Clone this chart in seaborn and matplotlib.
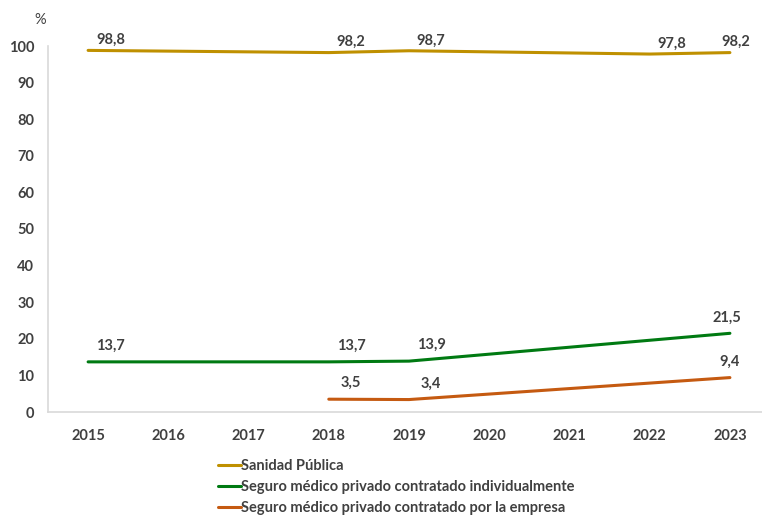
import matplotlib
matplotlib.use("Agg")
import matplotlib.pyplot as plt
import seaborn as sns
import pandas as pd
from matplotlib.lines import Line2D

# Data
years_publica = [2015, 2018, 2019, 2022, 2023]
vals_publica = [98.8, 98.2, 98.7, 97.8, 98.2]
years_individual = [2015, 2018, 2019, 2023]
vals_individual = [13.7, 13.7, 13.9, 21.5]
years_empresa = [2018, 2019, 2023]
vals_empresa = [3.5, 3.4, 9.4]
series_names = ["Sanidad Pública",
                "Seguro médico privado contratado individualmente",
                "Seguro médico privado contratado por la empresa"]
x_ticks = list(range(2015, 2024))
y_ticks = list(range(0, 101, 10))

colors = ["#BF9000", "#007A12", "#C55A11"]

sns.set_theme(style="white")
plt.rcParams['font.family'] = ['Lato', 'DejaVu Sans']

df = pd.concat([
    pd.DataFrame({"year": years_publica, "value": vals_publica, "serie": series_names[0]}),
    pd.DataFrame({"year": years_individual, "value": vals_individual, "serie": series_names[1]}),
    pd.DataFrame({"year": years_empresa, "value": vals_empresa, "serie": series_names[2]}),
])

fig = plt.figure(figsize=(7.62, 5.17), dpi=100)
ax = fig.add_axes([48/762, 105/517, (762-48)/762, (412-46)/517])

sns.lineplot(data=df, x="year", y="value", hue="serie", hue_order=series_names,
             palette=colors, linewidth=2.2, legend=False, ax=ax, sort=True)

ax.set_xlim(2014.5, 2023.4)
ax.set_ylim(0, 100)
ax.set_xticks(x_ticks)
ax.set_yticks(y_ticks)
txtc = "#404040"
ax.tick_params(axis="both", length=0, labelsize=10.5, colors=txtc, pad=10)
for lbl in ax.get_xticklabels() + ax.get_yticklabels():
    lbl.set_fontweight("bold")
ax.tick_params(axis="x", pad=12)
ax.set_xlabel("")
ax.set_ylabel("")
for s in ["top", "right"]:
    ax.spines[s].set_visible(False)
for s in ["left", "bottom"]:
    ax.spines[s].set_color("#D9D9D9")
    ax.spines[s].set_linewidth(1.2)

fig.text(40/762, 1 - 20/517, "%", ha="center", va="center", color=txtc, fontsize=10.5)

def fmt(v):
    return f"{v:.1f}".replace(".", ",")

for yrs, vals in [(years_publica, vals_publica), (years_individual, vals_individual),
                  (years_empresa, vals_empresa)]:
    for i, (x, y) in enumerate(zip(yrs, vals)):
        last = (i == len(yrs) - 1)
        dx = 4 if (last and y > 50) else (-2 if last and y > 15 else (0 if last else 16))
        dy = 7.5 if y > 50 else 11.5
        ax.annotate(fmt(y), (x, y), xytext=(dx, dy), textcoords="offset points",
                    ha="center", va="center", fontsize=10.5, fontweight="bold",
                    color=txtc, annotation_clip=False)

handles = [Line2D([0], [0], color=c, lw=2.2) for c in colors]
leg = fig.legend(handles, series_names, loc="center left",
                 bbox_to_anchor=(218/762, 1 - 487/517), frameon=False,
                 handlelength=1.6, handletextpad=0.0, labelspacing=0.5,
                 borderaxespad=0, borderpad=0,
                 prop={"size": 10.5, "weight": "bold"})
for t in leg.get_texts():
    t.set_color(txtc)

fig.savefig("out.png", dpi=100)
